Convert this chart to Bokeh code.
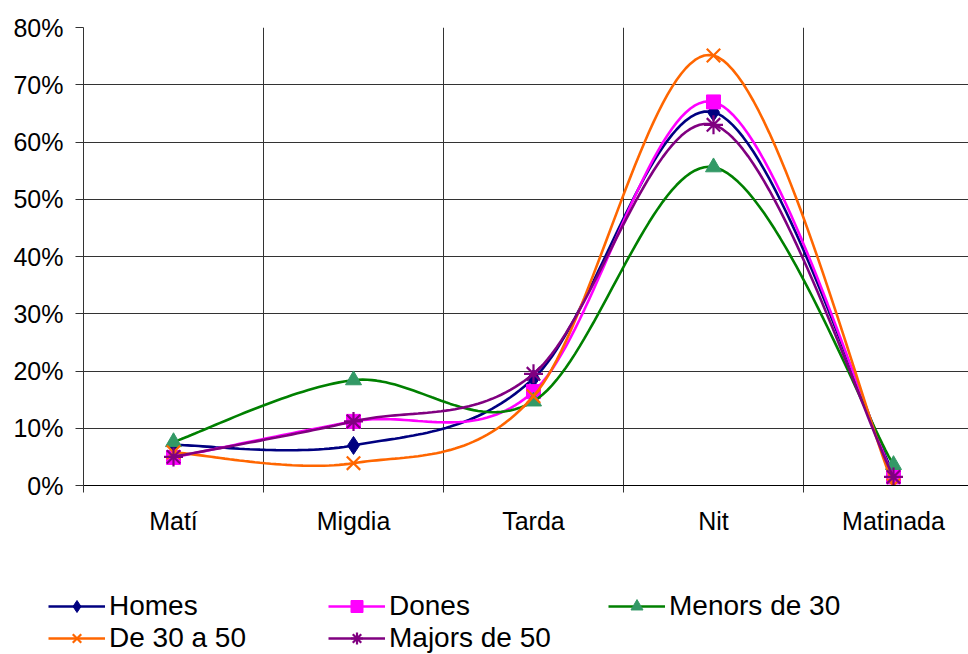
import numpy as np
from bokeh.plotting import figure
from bokeh.layouts import column
from bokeh.models import Range1d, FixedTicker, PrintfTickFormatter, Legend, LegendItem
from bokeh.embed import file_html
from bokeh.resources import INLINE

categories = ["Matí", "Migdia", "Tarda", "Nit", "Matinada"]
homes = [7.1, 7.0, 18.7, 65.2, 2.0]
dones = [4.9, 11.2, 16.4, 67.0, 1.5]
menors_30 = [7.6, 18.4, 14.7, 55.6, 3.6]
de_30_a_50 = [5.8, 3.9, 15.6, 75.1, 0.0]
majors_50 = [5.0, 11.2, 19.5, 63.0, 1.5]
y_ticks = [0, 10, 20, 30, 40, 50, 60, 70, 80]

series = [
    ("Homes", homes, "#000080", "diamond", "#000080", 18),
    ("Dones", dones, "#FF00FF", "square", "#FF00FF", 14),
    ("Menors de 30", menors_30, "#008000", "triangle", "#339966", 16),
    ("De 30 a 50", de_30_a_50, "#FF6600", "x", "#FF6600", 19),
    ("Majors de 50", majors_50, "#800080", "asterisk", "#800080", 19),
]

xs = [i + 0.5 for i in range(len(categories))]


def smooth(x, y, n=40):
    x = np.asarray(x, float)
    y = np.asarray(y, float)
    px = np.concatenate([[x[0]], x, [x[-1]]])
    py = np.concatenate([[y[0]], y, [y[-1]]])
    ox, oy = [], []
    for i in range(1, len(px) - 2):
        p0 = np.array([px[i], py[i]])
        p3 = np.array([px[i + 1], py[i + 1]])
        c1 = p0 + (np.array([px[i + 1], py[i + 1]]) - np.array([px[i - 1], py[i - 1]])) / 6.0
        c2 = p3 - (np.array([px[i + 2], py[i + 2]]) - np.array([px[i], py[i]])) / 6.0
        t = np.linspace(0, 1, n)[:, None]
        pts = ((1 - t) ** 3) * p0 + 3 * ((1 - t) ** 2) * t * c1 + 3 * (1 - t) * t ** 2 * c2 + t ** 3 * p3
        if i > 1:
            pts = pts[1:]
        ox.extend(pts[:, 0])
        oy.extend(pts[:, 1])
    return ox, oy


W, H1, H2 = 968, 560, 94
p = figure(width=W, height=H1, output_backend="svg", toolbar_location=None,
           x_range=Range1d(0, (W - 83) / 180.0), y_range=Range1d(0, 80),
           min_border_left=83, min_border_right=0, min_border_top=27, min_border_bottom=H1 - 485)
p.outline_line_color = None
p.background_fill_color = "white"

# x axis
p.xaxis.ticker = FixedTicker(ticks=xs, minor_ticks=[0, 1, 2, 3, 4])
p.xaxis.major_label_overrides = {x: c for x, c in zip(xs, categories)}
p.xaxis.major_tick_line_color = None
p.xaxis.major_tick_out = 7
p.xaxis.major_tick_in = 0
p.xaxis.minor_tick_out = 7
p.xaxis.minor_tick_in = 0
p.xaxis.minor_tick_line_color = "#333333"
p.xaxis.axis_line_color = "black"
p.xaxis.major_label_standoff = 14
p.xaxis.major_label_text_font = "Liberation Sans"
p.xaxis.major_label_text_font_size = "25px"
p.xaxis.major_label_text_color = "black"

# y axis
p.yaxis.ticker = FixedTicker(ticks=y_ticks)
p.yaxis.formatter = PrintfTickFormatter(format="%d%%")
p.yaxis.major_tick_out = 8
p.yaxis.major_tick_in = 0
p.yaxis.minor_tick_line_color = None
p.yaxis.major_tick_line_color = "#333333"
p.yaxis.axis_line_color = "#333333"
p.yaxis.major_label_standoff = 12
p.yaxis.major_label_text_font = "Liberation Sans"
p.yaxis.major_label_text_font_size = "25px"
p.yaxis.major_label_text_color = "black"

p.xgrid.ticker = FixedTicker(ticks=[1, 2, 3, 4])
p.xgrid.grid_line_color = "#333333"
p.ygrid.ticker = FixedTicker(ticks=y_ticks[1:])
p.ygrid.grid_line_color = "#333333"

# legend figure
q = figure(width=W, height=H2, output_backend="svg", toolbar_location=None,
           x_range=Range1d(0, 1), y_range=Range1d(0, 1),
           min_border_left=0, min_border_right=0, min_border_top=0, min_border_bottom=0)
q.axis.visible = False
q.grid.visible = False
q.outline_line_color = None
q.frame_align = False
p.frame_align = False

items = []
for name, vals, lc, marker, fc, size in series:
    sx, sy = smooth(xs, vals)
    p.line(sx, sy, line_color=lc, line_width=2.6)
    if marker in ("x", "asterisk"):
        kw = dict(marker=marker, size=size, line_color=fc, line_width=2.2, fill_color=None)
    else:
        kw = dict(marker=marker, size=size, line_color=fc, fill_color=fc, line_width=1)
    p.scatter(xs, vals, **kw)
    l1 = q.line([-10, -9], [-10, -9], line_color=lc, line_width=2.6)
    l2 = q.scatter([-10], [-10], **kw)
    items.append(LegendItem(label=name, renderers=[l1, l2]))

legend = Legend(items=items, ncols=3, orientation="horizontal", location=(48, 0),
                label_text_font="Liberation Sans", label_text_font_size="28px",
                label_text_color="black",
                glyph_width=57, glyph_height=30, label_standoff=4, label_width=219,
                spacing=0, padding=0, margin=0, border_line_color=None,
                background_fill_alpha=0)
q.add_layout(legend, "center")

open("out.html", "w").write(file_html(column(p, q, spacing=0), INLINE))
